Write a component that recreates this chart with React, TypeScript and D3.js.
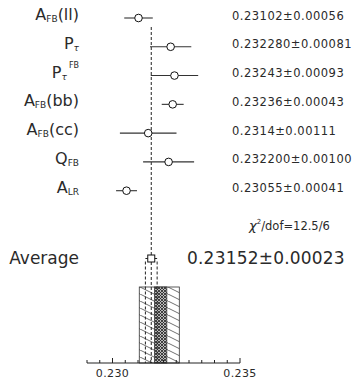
import React from 'react';
import * as d3 from 'd3';

// measurements, top to bottom
const measNames = ['AFB(ll)', 'Ptau', 'PtauFB', 'AFB(bb)', 'AFB(cc)', 'QFB', 'ALR'];
const measValues = [0.23102, 0.23228, 0.23243, 0.23236, 0.2314, 0.2322, 0.23055];
const measErrors = [0.00056, 0.00081, 0.00093, 0.00043, 0.00111, 0.001, 0.00041];
const measTexts = [
  '0.23102\u00b10.00056',
  '0.232280\u00b10.00081',
  '0.23243\u00b10.00093',
  '0.23236\u00b10.00043',
  '0.2314\u00b10.00111',
  '0.232200\u00b10.00100',
  '0.23055\u00b10.00041',
];

const avgValue = 0.23152;
const avgError = 0.00023;
const avgText = '0.23152\u00b10.00023';
const chiText = '/dof=12.5/6';

// prediction band (outer hatched, inner dense)
const bandOuter = [0.23105, 0.23262];
const bandInner = [0.23165, 0.23213];

const axisDomain = [0.229, 0.235];
const axisLabels = [0.23, 0.235];

const FONT = 'DejaVu Sans';

function Label({ name, x, y }: { name: string; x: number; y: number }) {
  const big = 16;
  const small = 9;
  let parts: React.ReactNode;
  if (name.startsWith('AFB') || name === 'ALR' || name === 'QFB') {
    const main = name[0];
    const sub = name.slice(1, 3);
    const rest = name.slice(3);
    parts = (
      <>
        <tspan fontSize={big}>{main}</tspan>
        <tspan fontSize={small} dy={2}>{sub}</tspan>
        {rest ? <tspan fontSize={big} dy={-2}>{rest}</tspan> : null}
      </>
    );
  } else if (name === 'Ptau') {
    parts = (
      <>
        <tspan fontSize={big}>P</tspan>
        <tspan fontSize={small} dy={2} fontStyle="italic">τ</tspan>
      </>
    );
  } else {
    parts = (
      <>
        <tspan fontSize={big}>P</tspan>
        <tspan fontSize={small} dy={2} fontStyle="italic">τ</tspan>
        <tspan fontSize={8} dy={-12} dx={2}>FB</tspan>
      </>
    );
  }
  return (
    <text x={x} y={y} textAnchor="end" fontFamily={FONT} fill="#2a2a2a">
      {parts}
    </text>
  );
}

export default function App() {
  const W = 364;
  const H = 379;
  const x = d3.scaleLinear().domain(axisDomain).range([87, 240]);
  const y = d3.scalePoint<string>().domain(measNames).range([18, 190.7]);
  const avgY = 258.5;
  const bandTop = 287;
  const axisY = 363;

  const ticks = d3.range(0, 13).map((i) => axisDomain[0] + i * 0.0005);

  return (
    <svg width={W} height={H} style={{ position: 'absolute', left: 0, top: 0, background: '#fff' }}>
      <defs>
        <pattern id="hatch" patternUnits="userSpaceOnUse" width={14} height={7}>
          <line x1={0} y1={0} x2={14} y2={7} stroke="#333" strokeWidth={0.7} />
          <line x1={-14} y1={0} x2={0} y2={7} stroke="#333" strokeWidth={0.7} />
          <line x1={0} y1={-7} x2={14} y2={0} stroke="#333" strokeWidth={0.7} />
        </pattern>
        <pattern id="dense" patternUnits="userSpaceOnUse" width={3} height={3}>
          <rect width={3} height={3} fill="#bbb" />
          <line x1={0} y1={0} x2={3} y2={3} stroke="#222" strokeWidth={0.8} />
          <line x1={3} y1={0} x2={0} y2={3} stroke="#222" strokeWidth={0.8} />
        </pattern>
      </defs>

      {/* band */}
      <rect x={x(bandOuter[0])} y={bandTop} width={x(bandOuter[1]) - x(bandOuter[0])} height={axisY - bandTop}
        fill="url(#hatch)" stroke="#333" strokeWidth={0.8} />
      <rect x={x(bandInner[0])} y={bandTop} width={x(bandInner[1]) - x(bandInner[0])} height={axisY - bandTop}
        fill="url(#dense)" stroke="#333" strokeWidth={0.8} />

      {/* dashed average lines */}
      <line x1={x(avgValue)} x2={x(avgValue)} y1={27} y2={axisY} stroke="#222" strokeDasharray="3,2" strokeWidth={1} />
      {[avgValue - avgError, avgValue + avgError].map((v, i) => (
        <line key={i} x1={x(v)} x2={x(v)} y1={avgY + 3} y2={axisY} stroke="#222" strokeDasharray="3,2" strokeWidth={1} />
      ))}

      {/* measurements */}
      {measNames.map((n, i) => {
        const cy = y(n) as number;
        return (
          <g key={n}>
            <line x1={x(measValues[i] - measErrors[i])} x2={x(measValues[i] + measErrors[i])} y1={cy} y2={cy}
              stroke="#333" strokeWidth={1.1} />
            <circle cx={x(measValues[i])} cy={cy} r={3.8} fill="#fff" stroke="#111" strokeWidth={1} />
            <Label name={n} x={79} y={cy + 2} />
            <text x={232} y={cy + 1.5} fontFamily={FONT} fontSize={11.5} letterSpacing={0.5} fill="#2a2a2a">
              {measTexts[i]}
            </text>
          </g>
        );
      })}

      {/* chi2 */}
      <text x={249} y={230} fontFamily={FONT} fontSize={11.5} fill="#2a2a2a">
        <tspan fontStyle="italic" fontSize={13}>χ</tspan>
        <tspan fontSize={7} dy={-6}>2</tspan>
        <tspan dy={6}>{chiText}</tspan>
      </text>

      {/* average */}
      <line x1={x(avgValue - avgError)} x2={x(avgValue + avgError)} y1={avgY} y2={avgY} stroke="#222" strokeWidth={1} />
      <rect x={x(avgValue) - 3.5} y={avgY - 3.5} width={7} height={7} fill="#fff" stroke="#111" strokeWidth={1} />
      <text x={79} y={264} textAnchor="end" fontFamily={FONT} fontSize={17} fill="#2a2a2a">Average</text>
      <text x={187} y={264} fontFamily={FONT} fontSize={17} letterSpacing={0.2} fill="#2a2a2a">{avgText}</text>

      {/* axis */}
      <line x1={x(axisDomain[0])} x2={x(axisDomain[1])} y1={axisY} y2={axisY} stroke="#222" strokeWidth={1} />
      {ticks.map((t, i) => {
        const major = axisLabels.some((l) => Math.abs(l - t) < 1e-7);
        return (
          <line key={i} x1={x(t)} x2={x(t)} y1={axisY} y2={axisY - (major ? 5 : 3)} stroke="#222" strokeWidth={1} />
        );
      })}
      {axisLabels.map((l) => (
        <text key={l} x={x(l)} y={376.5} textAnchor="middle" fontFamily={FONT} fontSize={11} letterSpacing={0.4} fill="#2a2a2a">
          {d3.format('.3f')(l)}
        </text>
      ))}
    </svg>
  );
}
